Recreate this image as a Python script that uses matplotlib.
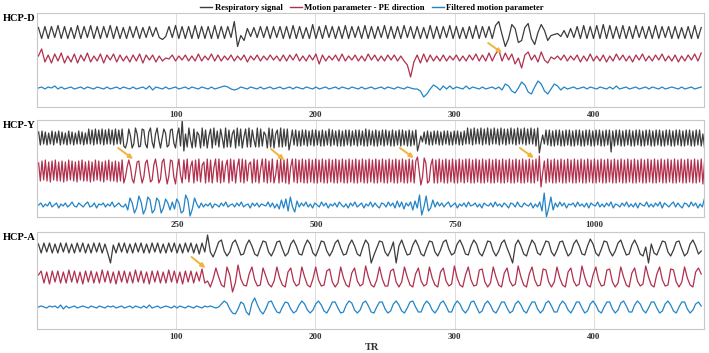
import matplotlib.pyplot as plt
import numpy as np
from matplotlib.lines import Line2D

# sampled traces, px deviation from each trace's baseline (positive = up)
resp_d = [5, -6, 6, -6, 6, -5, 7, -6, 6, -6, 5, -6, 7, -6, 6, -5, 7, -6, 6, -6,
          6, -5, 7, -6, 6, -6, 5, -6, 6, -5, 6, -6, 5, -5, 6, -4, 5, -5,
          -7, -4, 6, -5, 7, -6, 6, -6, 6, -6, 7, -6, 6, -6, 6, -6, 7, -6, 6, -6, 6, -5,
          11, -14, -3, -8, 4, -4, 5, -5, 6, -5, 6, -6, 6, -5, 6, -6,
          6, -6, 7, -6, 6, -6, 5, -6, 8, -6, 6, -6, 7, -5, 6, -6, 6, -6, 7, -6,
          6, -5, 6, -6, 7, -6, 6, -6, 6, -5, 7, -6, 6, -6, 6, -6, 7, -5, 6, -6,
          6, -6, 5, -6, 7, -6, 6, -6, 6, -5, 7, -6, 6, -6, 5, -6, 6, -6, 7, -6,
          6, -5, 6, -6, 7,
          11, -2, -14, -6, 8, 4, -10, -8, 5, 9, -6, -12, 0, 8, 2, -8, -3,
          -2, -1, -4, 2, -5, 4, -5, 6, -6, 7, -6, 6, -6, 7, -6, 8, -6, 7, -6, 6,
          -6, 7, -6, 6, -6, 7, -5, 6, -6, 6, -6, 7, -6, 6, -5, 6, -6, 6, -6, 5,
          -6, 6, -6, 7, -6, 5]
motion_d = [2, 9, -4, 3, -5, 4, -3, 5, -5, 2, -4, 4, -5, 3, -3, 5, -4, 2, -3, 4,
            -5, 3, -2, 4, -4, 3, -3, 2, -4, 3, -3, 4, -5, 3, -2, 3, -4, 2,
            -3, 0, -1, 3, -3, 2, -2, 3, -3, 2, -3, 4, -3, 2, -2, 4, -3, 3, -3, 2, -2, 3,
            -3, 2, -2, 3, -4, 2, -2, 3, -3, 2, -2, 3, -2, 2, -3, 3,
            -3, 3, -2, 4, -3, 2, -3, 3, -2, 4, -6, 3, -3, 2, -2, 3, -3, 4, -3, 2,
            -2, 3, -3, 2, -3, 4, -2, 3, -3, 2, -3, 3, -2, 3, -3, 2, -3, -7, -19, -4,
            3, -5, 4, -4, 3, -3, 2, -3, 3, -3, 2, -2, 3, -3, 2, -3, 3, -2, 4, -3,
            3, -3, 5, -3, 4,
            8, -3, 5, -2, 4, -6, 0, -10, 3, 6, -2, 3, -4, 6, -2, -5, 1,
            -1, 2, -2, 3, -3, 2, -2, 3, -4, 2, -3, 4, -3, 2, -3, 3, -4, 2, -3, 4,
            -2, 3, -3, 2, -4, 3, -2, 4, -3, 2, -3, 3, -2, 4, -3, 2, -3, 3, -4, 2,
            -3, 3, -2, 4, -3, 5]
filtered_d = [0, 1, -1, 1, 0, 2, -1, 1, -1, 0, 1, -1, 0, 1, -1, 1, 0, -1, 1, 0,
              -1, 1, -1, 0, 1, -1, 1, 0, -1, 1, -1, 0, 1, -1, 2, -2, 1, 0,
              -1, 1, -1, 0, 1, -1, 0, 1, -1, 1, 0, -1, 1, 0, -1, 1, -1, 0, 1, 2,
              1, -1, -2, -1, 1, 0, -1, 1, 0, -1, 1, -1, 0, 1, -1, 0, 1, -1,
              0, 1, -1, 1, 0, -1, 1, 0, -1, 1, -1, 0, 1, -1, 0, 1, -1, 1, 0, -1,
              1, 0, -1, 1, -1, 0, 1, -1, 0, 1, -1, 1, 0, -1, 1, 0, -1, 1, 0, -1,
              -1, -3, -9, -6, -1, 3, 1, -2, 2, -1, 2, -1, 1, 0, -1, 2, -1, 1, 0, -1,
              1, -1, 0, 1, -1,
              1, -2, 4, 2, -3, -5, 0, 6, 3, -4, -6, 1, 7, 4, -3, -6, -1, 4, 2, -2,
              1, -1, 0, 1, -1, 0, 1, -1, 1, 0, -1, 1, 0, -1, 1, -1, 2, -1, 0, 1,
              -1, 0, 1, -1, 0, 1, -1, 1, 0, -1, 1, -1, 0, 1, 0, -1, 1, -1, 0, 1,
              -1, 0, 1]

resp_y = [6, -7, 7, -6, 6, -7, 5, -6, 7, -7, 6, -5, 7, -7, 6, -6, 5, -7, 7, -6,
          6, -7, 5, -6, 7, -6, 6, -7, 5, -6,
          9, -6, 8, -7, 9, -6, 8, -6, 9, -7, 8, -6, 9, -6, 8, -7, 9, -6, 8, -6, 9, -8,
          -10, -4, 9, 2, -10, -6, 10, 4, -9, -8, 9, 8, -6, -10, 6, 10, -4, -10, 4, 10,
          -2, -10, 0, 9, 5, -9, -7, 8, 9, -5, -10, 3, 10, -8, 18,
          -13, 4, -9, 10, -2, -10, 9, -9, 6, 3, -10, 10, -8, 8, -10, 2, 9, -10, 10, -7,
          7, -9, 9, 0, -10, 10, -9, 8, -9, 4, 8, -10, 10, -8, 9, -10, 1, 9, -9, 10,
          -9, 8, -2, -9, 10, -9, 9, -8, 6, 3, -10, 10, -9, 9, -10, 4, 8, -9, 10, -9,
          9, -8, 9,
          -12, -3, 8, -7, 8, -8, 7, -8, 8, -7, 8, -8, 7, -7, 8, -8, 8, -7, 7, -8,
          8, -8, 7, -7, 9, -8, 8, -7, 7, -8, 8, -8, 7, -8, 8, -7, 8, -8, 7, -7,
          8, -8, 8, -7, 7, -8, 9, -8, 8, -7, 7, -8, 8, -8, 7, -7, 8, -8, 8, -7,
          7, -8, 8, -8, 7, -7, 8, -8, 8, -7, 7, -8, 8, -8, 7, -7, 8,
          -13, -6, 2, -4, 6, -6, 7, -7, 6, -7, 7, -6, 7, -7, 6, -7, 7, -6, 7, -7,
          6, -7, 7, -6, 7, -7, 6, -7, 7, -6,
          10, -6, 9, -7, 10, -6, 9, -6, 10, -7, 9, -6, 10, -7, 9, -6, 10, -6, 9, -7,
          10, -6, 9, -7, 9, -6, 10, -6, 9, -7, 10, -6, 9, -6, 10, -7, 9, -6, 10, -6,
          9, -8, 10,
          -15, -5, 3, -6, 8, -7, 8, -8, 7, -8, 8, -7, 8, -8, 7, -8, 8, -7, 8, -8,
          7, -8, 8, -7, 8, -8, 7, -8, 8, -7, 8, -8, 7, -8, 8, -7, 8, -8, 7, -8,
          8, -7, 8, -14, 7, -8, 8, -7, 8, -8, 7, -8, 8, -7, 8, -8, 7, -8, 8, -7,
          8, -8, 7, -8, 8, -7, 8, -8, 7, -8, 8, -7, 8, -8, 7, -8, 8, -7, 8, -8,
          7, -8, 8, -7, 8, -8, 7, -8, 8, -7, 8, -8, 7, -8, 8, -7, 8, -8, 4, -10]
motion_y = [8, -10, 10, -9, 11, -10, 9, -11, 10, -9, 11, -10, 9, -10, 10, -11, 9, -10, 11, -9,
            10, -10, 9, -11, 10, -9, 11, -10, 9, -10, 10, -11, 9, -10, 11, -9, 10, -10, 9, -11,
            10, -9, 11, -10, 9, -10, 10, -11, 9, -10, 11, -12,
            -6, 4, 11, 4, -8, -12, -2, 9, 10, -3, -12, -6, 8, 11, 0, -11, -9, 6, 12, 2,
            -12, -8, 9, 12, -2, -13, -5, 11, 10, -6, -13, 2, 12, -4, -12,
            11, -8, 12, -11, 4, 10, -12, 11, -10, 12, -11, 6, 9, -12, 12, -11, 11, -12, 3, 12,
            -11, 12, -12, 10, -11, 5, 11, -12, 12, -10, 11, -12, 4, 12, -11, 12, -12, 11, -10, 7,
            9, -12, 12, -11, 11, -12, 2, 12, -11, 12, -12, 10, -11, 12, -12, -4, 11, -12, 12, -11,
            11, -12, 12,
            -13, 4, 12, -11, 12, -12, 11, -11, 12, -12, 11, -12, 12, -11, 11, -12, 12, -12, 11, -11,
            12, -12, 11, -12, 12, -11, 11, -12, 12, -12, 11, -11, 12, -12, 11, -12, 12, -11, 11, -12,
            12, -12, 11, -11, 12, -12, 11, -12, 12, -11, 11, -12, 12, -12, 11, -11, 12, -12, 11, -12,
            12, -11, 11, -12, 12, -12, 11, -11, 12, -12, 11, -12, 12, -11, 11, -12, 10,
            14, 0, -14, -6, 13, 8, -12, -10, 6, 12, -12, 11, -12, 12, -11, 11, -12, 12, -12, 11,
            -11, 12, -12, 11, -12, 12, -11, 11, -12, 12,
            -11, 12, -12, 11, -12, 12, -11, 11, -12, 12, -12, 11, -11, 12, -12, 11, -12, 12, -11, 11,
            -12, 12, -12, 11, -11, 12, -12, 11, -12, 12, -11, 11, -12, 12, -12, 11, -11, 12, -12, 11,
            -12, 12, -10,
            15, -16, -2, 10, -12, 12, -11, 11, -12, 12, -12, 11, -11, 12, -12, 11, -12, 12, -11, 11,
            -12, 12, -12, 11, -11, 12, -12, 11, -12, 12, -11, 11, -12, 12, -12, 11, -11, 12, -12, 11,
            -12, 12, -11, 11, -12, 12, -12, 11, -11, 12, -12, 11, -12, 12, -11, 11, -12, 12, -12, 11,
            -11, 12, -12, 11, -12, 12, -11, 11, -12, 12, -12, 11, -11, 12, -12, 11, -12, 12, -11, 11,
            -12, 12, -12, 11, -11, 12, -12, 11, -12, 12, -11, 11, -12, 12, -12, 11, -11, 12, -13, 10]
filtered_y = [0, 2, -2, 1, -1, 3, -2, 0, 2, -3, 1, -1, 2, -2, 0, 3, -1, -2, 2, 0,
              -2, 1, 3, -2, -1, 2, -3, 1, 0, 2, -2, 1, -1, 3, -2, 0, 2, -1, -2, 1,
              -5, 7, 2, -8, -3, 9, 3, -9, -4, 8, 5, -8, -5, 7, 4, -8, -3, 6, 2, -5,
              3, -4, 6, 2, -8, -6, 10, 5, -11, -4, 7, 1, -3,
              2, -2, 1, -1, 2, -3, 1, 0, -2, 2, -1, 3, -2, 0, 1, -2, 2, -1, 3, -2,
              0, 1, -3, 2, -1, 2, -2, 1, 0, -1, 3, -2, 2, -3, 1,
              -4, 5, -3, 6, -6, 8, -2, -7, 4, -2,
              2, -1, 3, -2, 1, -3, 2, 0, -2, 3, -1, 2, -3, 1, -1, 2, -2, 3, 0, -2,
              1, -3, 2, -1, 3, -2, 0, 2, -3, 1, -1, 3, -2, 2, -1, -3, 2, 1, -2, 3,
              -1, 2, -3, 4, -2, 3, -4, 2, -1, 3,
              -5, 4, -3, 10, -10, -2, 9, -6, -3, 5, -2, 3, -1,
              2, -2, 1, 3, -2, 0, 2, -3, 1, -1, 2, -2, 3, -1, 0, 2, -2, 1, -3, 2,
              0, -1, 2, -2, 3, -1, 1, -2, 2, 0, -3, 2, 1, -2, 3, -1, -2, 2, 0, -1,
              2, -3, 1, -2,
              3, -6, 12, -12, -3, 8, -5, 2,
              -2, 3, -1, 2, -3, 1, 0, 2, -2, 3, -1, 1, -2, 2, -3, 2, 0, -1, 3, -2,
              1, -2, 2, -1, 3, -3, 1, 0, -2, 2, -1, 3, -2, 1, -2, 2, -3, 2, 0, -1,
              3, -2, 1, -2, 2, -1, 3, -3, 2, 0, -2, 1, 3, -2, 2, -1, -3, 2, 1, -2,
              3, -1, 2, -3, 1, -2, 7]

resp_a = [4, -5, 5, -4, 5, -5, 4, -5, 5, -4, 5, -5, 4, -5, 5, -4, 5, -5, 4, -5,
          5, -4, 5, -5, 4, -5, -15, 3, -5, 5, -4, 5, -5, 4, -5, 5, -4, 5, -5, 4,
          -5, 5, -4, 5, -5, 4, -5, 5, -4, 5, -5, 4, -5, 5, -4, 5, -5, 4, -6, 5, -4,
          13, -4, -9, -2, 6, 8, -3, -8, -4,
          5, 8, 1, -7, -6, 3, 8, 2, -6, -8, 0, 7, 6, -4, -8, -2, 6, 7, -1, -8,
          -5, 4, 8, 2, -6, -7, 2, 8, 4, -5, -8, -1, 7, 6, -3, -8, -3, 5, 8, 0,
          -7, -6, 3, 8, 2, -6, -8, 1, 8, 4, -15, -7, 0, 7, 6, -4, -8, -2, 6, -15,
          2, 8, 0, -7, -6, 3, 8, 2, -6, -8, 0, 7, 6, -4, -8, -2, 6, 8, -1, -7,
          -5, 4, 8, 2, -6, -7, 2, 8, 4, -5, -8, -1, 7, 6, -3, -8, -3, 5, 8, 0,
          -7, -15, 3, 8, 2, -6, -8, 1, 8, 4, -5, -7, 0, 7, 6, -4, -8, -2, 6, 7,
          -1, -8, -5, 4, 8, 2, -6, -7, 2, 9, 4, -5, -8, -1, 7, 6, -3, -8, -3, 5,
          8, 0, -7, -6, 3, 8, 2, -6, -8, 1, -15, 4, -5, -7, 0, 7, 6, -4, -8, -2,
          6, 7, -1, -8, -5, 4, 8, 2, -6, -3]
motion_a = [2, 6, -6, 5, -7, 6, -5, 6, -6, 5, -6, 7, -5, 6, -6, 5, -7, 6, -5, 6,
            -6, 5, -6, 7, -5, 6, -6, 5, -7, 6, -5, 6, -6, 5, -6, 7, -5, 6, -6, 5,
            -7, 6, -5, 6, -6, 5, -6, 7, -5, 6, -6, 5, -7, 6, -5, 6, -6, 5, -4, 8, -6,
            -4, -10, -2, 9, 0, -8, -10, 10, 2,
            -15, -6, 12, -2, -8, -9, 3, 10, -3, -9, -8, 9, 1, -7, -10, -4, 10, -1, -8, -10,
            5, 9, -4, -9, -7, 10, 0, -8, -10, -2, 10, -3, -9, -8, 6, 8, -5, -10, -6, 10,
            -1, -8, -10, 4, 9, -4, -9, -7, 11, 0, -8, -10, -3, 10, -2, -9, -9, 6, 8, -5,
            -10, -5, 10, 0, -8, -10, 3, 9, -4, -9, -7, 10, -1, -8, -10, 5, 9, -4, -9, -7,
            11, -1, -8, -10, 2, 10, -3, -9, -8, 7, 8, -5, -10, -6, 10, 0, -8, -10, 4, 9,
            -4, -9, -7, 11, 0, -8, -10, 3, 10, -3, -9, -8, 8, 7, -5, -10, -5, 10, -1, -8,
            -10, 5, 9, -4, -9, -7, 11, 0, -8, -10, 2, 10, -3, -9, -8, 7, 8, -5, -10, -6,
            10, 0, -8, -10, 4, 9, -4, -9, -7, 11, 0, -8, -10, 3, 10, -3, -9, -8, 8, 7,
            -5, -10, -5, 10, -1, -8, -10, 5, 9, 3]
filtered_a = [0, 1, 0, -1, 1, 0, 1, -1, 2, -2, 1, -1, 0, 1, -1, 0, 1, 0, -1, 1,
              0, -1, 1, 0, -1, 1, 0, 1, -1, 0, 1, -1, 0, 1, -1, 1, 0, -1, 1, -1,
              2, -1, 0, 1, -1, 0, 1, 0, -1, 1, -1, 1, 0, -1, 1, 0, -1, 1, 0, -1,
              1, 0, 1, 0, -1,
              0, 3, 6, 4, -2, -6, -7, -2, 5, 3, -5, -8, 4, 9, 2, -4, -7, -2, 5, 6,
              0, -5, -6, 0, 5, 4, -2, -6, -4, 2, 6, 3, -3, -6, -3, 3, 6, 2, -4, -6,
              -1, 5, 5, -1, -6, -5, 2, 6, 4, -3, -6, -3, 4, 6, 1, -5, -6, 0, 5, 5,
              -2, -6, -4, 3, 6, 2, -4, -6, -1, 5, 6, 0, -5, -5, 2, 6, 3, -3, -6, -2,
              4, 6, 1, -5, -5, 2, 6, 3, -3, -6, -2, 5, 6, 0, -6, -4, 3, 6, 2, -4,
              -6, -1, 5, 5, -1, -6, -4, 3, 6, 2, -4, -6, 0, 5, 5, -2, -6, -3, 4, 6,
              1, -5, -5, 2, 6, 3, -3, -6, -1, 5, 5, -1, -6, -4, 3, 6, 2, -4, -6, 0,
              5, 5, -2, -6, -3, 4, 6, 1, -5, -5, 2, 6, 3, -3, -6, -1, 5, 5, -1, -6,
              -4, 3, 6, 2, -4, -6, 0, 5, 5, -2, -6, -3, 3, 5, 1]

panel_names = ["HCP-D", "HCP-Y", "HCP-A"]
n_tr = [478, 1200, 478]
tick_values = [[100, 200, 300, 400], [250, 500, 750, 1000], [100, 200, 300, 400]]
series_labels = ["Respiratory signal", "Motion parameter - PE direction", "Filtered motion parameter"]

# arrows: (start TR, end TR) and (start px, end px) below panel top
arrow_tr = [[(324, 334)], [(144, 171), (419, 443), (651, 676), (867, 892)], [(111, 121)]]
arrow_px = [[(30, 40)], [(28, 39), (29, 40), (28, 38), (28, 38)], [(25, 36)]]

colors = ["#3c3c3c", "#b1304e", "#2384c6"]
serif = ["Liberation Serif", "DejaVu Serif"]

W, H = 709, 353
panel_px = [(13, 107), (120, 217), (232, 329)]
centers = [(19.5, 45, 75), (18, 51, 85), (16, 45, 75)]
xlims = [(0, 479), (-2, 1198), (0, 479)]

data = [[resp_d, motion_d, filtered_d],
        [resp_y, motion_y, filtered_y],
        [resp_a, motion_a, filtered_a]]

fig = plt.figure(figsize=(W / 100, H / 100), dpi=100)

for p in range(3):
    top, bottom = panel_px[p]
    ax = fig.add_axes([37 / W, 1 - bottom / H, (704 - 37) / W, (bottom - top) / H])
    for k, vals in enumerate(data[p]):
        vals = np.asarray(vals, dtype=float)
        x = np.linspace(1, n_tr[p] - 1, len(vals))
        ax.plot(x, centers[p][k] - vals, color=colors[k], lw=0.9)
    for (t0, t1), (y0, y1) in zip(arrow_tr[p], arrow_px[p]):
        ax.annotate("", xy=(t1, y1), xytext=(t0, y0),
                    arrowprops=dict(arrowstyle="-|>,head_length=0.25,head_width=0.12",
                                    color="#f2b33d", lw=1.4, shrinkA=0, shrinkB=0))
    ax.set_xlim(*xlims[p])
    ax.set_ylim(bottom - top, 0)
    ax.set_yticks([])
    ax.set_xticks(tick_values[p])
    ax.set_xticklabels([str(t) for t in tick_values[p]], family=serif,
                       fontweight="bold", fontsize=6.5, color="#333333")
    ax.tick_params(axis="x", length=0, pad=3)
    ax.grid(axis="x", color="#dcdcdc", lw=0.7)
    ax.set_axisbelow(True)
    for s in ax.spines.values():
        s.set_color("#c8c8c8")
        s.set_linewidth(0.8)
    fig.text(3 / W, 1 - (top + 1) / H, panel_names[p], family=serif,
             fontweight="bold", fontsize=7.5, va="top", ha="left")

fig.text(372 / W, 1 - 348 / H, "TR", family=serif, fontweight="bold",
         fontsize=7.5, ha="center", va="center", color="#333333")

handles = [Line2D([], [], color=c, lw=1.0) for c in colors]
fig.legend(handles, series_labels, loc="upper center", bbox_to_anchor=(372 / W, 1.0),
           ncol=3, frameon=False, borderaxespad=0.1, handlelength=1.4,
           handletextpad=0.3, columnspacing=0.8,
           prop=dict(family=serif, weight="bold", size=6.2))

plt.savefig("out.png", dpi=100)
